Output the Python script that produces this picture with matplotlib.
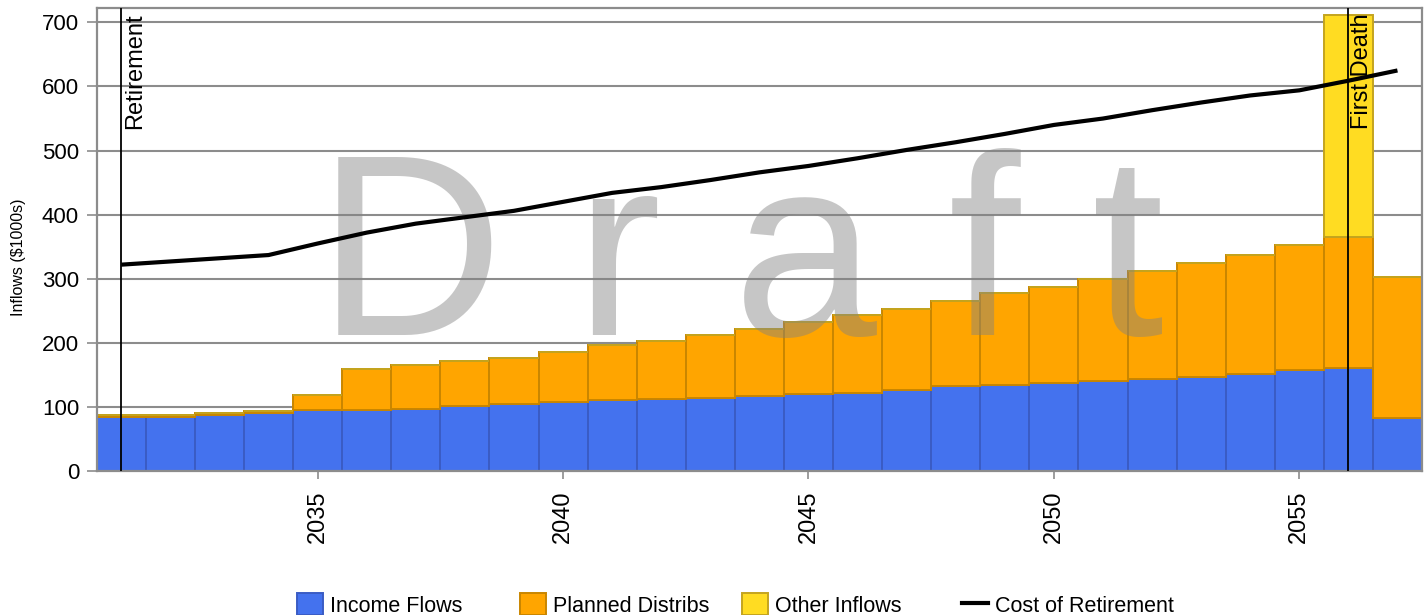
import matplotlib
matplotlib.use("Agg")
import matplotlib.pyplot as plt
from matplotlib.patches import Patch
from matplotlib.lines import Line2D
import matplotlib.transforms as mtransforms
import numpy as np

plt.rcParams['font.family'] = ['Liberation Sans', 'DejaVu Sans']

# ---- data (thousands of dollars per year) ----
years = list(range(2031, 2058))
income_flows = [85, 85, 88, 91, 95, 95, 97, 101, 104, 108, 111, 113, 114, 117,
                120, 122, 126, 132, 135, 138, 141, 144, 147, 151, 158, 160, 82]
planned_distribs = [2, 2, 3, 2, 23, 64, 68, 70, 73, 78, 86, 90, 99, 104,
                    112, 121, 127, 134, 143, 149, 158, 168, 177, 186, 194, 205, 221]
other_inflows = [0, 0, 0, 0, 0, 0, 0, 0, 0, 0, 0, 0, 0, 0,
                 0, 0, 0, 0, 0, 0, 0, 0, 0, 0, 0, 347, 0]
cost_of_retirement = [322, 327, 332, 337, 355, 372, 386, 396, 406, 420, 434, 443, 454, 466,
                      476, 488, 501, 513, 526, 540, 550, 563, 575, 586, 594, 609, 625]
event_years = [2031, 2056]
event_labels = ["Retirement", "First Death"]
x_ticks = [2035, 2040, 2045, 2050, 2055]
y_ticks = [0, 100, 200, 300, 400, 500, 600, 700]

series_names = ["Income Flows", "Planned Distribs", "Other Inflows"]
face_colors = ["#4472EE", "#FFA500", "#FFDC22"]
edge_colors = ["#3A5CC4", "#C98600", "#C4A41E"]

GRID = "#8C8C8C"

fig = plt.figure(figsize=(14.27, 6.15), dpi=100)
ax = fig.add_axes([0.0678, 0.2341, 0.9287, 0.7524])

x = np.array(years)
bottom = np.zeros(len(years))
for vals, name, fc, ec in zip([income_flows, planned_distribs, other_inflows],
                              series_names, face_colors, edge_colors):
    ax.bar(x, vals, width=1.0, bottom=bottom, color=fc, edgecolor=ec,
           linewidth=1.4, zorder=2, label=name)
    bottom = bottom + np.array(vals)

# watermark
ax.text(0.486, 0.294, "D r a f t", transform=ax.transAxes, fontsize=186,
        color=(0.51, 0.51, 0.51), alpha=0.45, ha="center", va="baseline",
        zorder=2.5)

# life events
trans = mtransforms.blended_transform_factory(ax.transData, ax.transAxes)
for yr, lab in zip(event_years, event_labels):
    ax.axvline(yr, color="black", linewidth=1.3, zorder=3)
    ax.text(yr + 0.05, 0.988, lab, transform=trans, rotation=90,
            ha="left", va="top", fontsize=17, zorder=3)

ax.plot(x, cost_of_retirement, color="black", linewidth=3.0, zorder=4,
        solid_capstyle="butt", label="Cost of Retirement")

ax.set_xlim(2030.5, 2057.5)
ax.set_ylim(0, 722)
ax.set_xticks(x_ticks)
ax.set_xticklabels([str(t) for t in x_ticks], rotation=90)
ax.set_yticks(y_ticks)
ax.yaxis.grid(True, color=GRID, linewidth=1.5)
ax.set_axisbelow(True)

for sp in ax.spines.values():
    sp.set_color(GRID)
    sp.set_linewidth(1.6)

ax.tick_params(axis="y", length=7.2, width=1.2, color=GRID, pad=5.5, labelsize=16)
ax.tick_params(axis="x", length=6, width=1.2, color=GRID, pad=8, labelsize=17)

ax.set_ylabel("Inflows ($1000s)", fontsize=11.5)
ax.yaxis.set_label_coords(-0.0533, 0.4625)

# legend along the bottom edge, one fixed-width slot per entry
handles = [Patch(facecolor=fc, edgecolor=ec, linewidth=1.4)
           for fc, ec in zip(face_colors, edge_colors)]
handles.append(Line2D([0], [0], color="black", linewidth=3.0))
labels = series_names + ["Cost of Retirement"]
slot_x = [297, 520, 742, 962]
for h, lab, px in zip(handles, labels, slot_x):
    fig.legend(handles=[h], labels=[lab], loc="center left",
               bbox_to_anchor=(px / 1427, 1 - 605 / 615), frameon=False,
               borderpad=0, borderaxespad=0, fontsize=15.5,
               handlelength=1.2, handleheight=1.2, handletextpad=0.35)

fig.savefig("out.png", dpi=100)
